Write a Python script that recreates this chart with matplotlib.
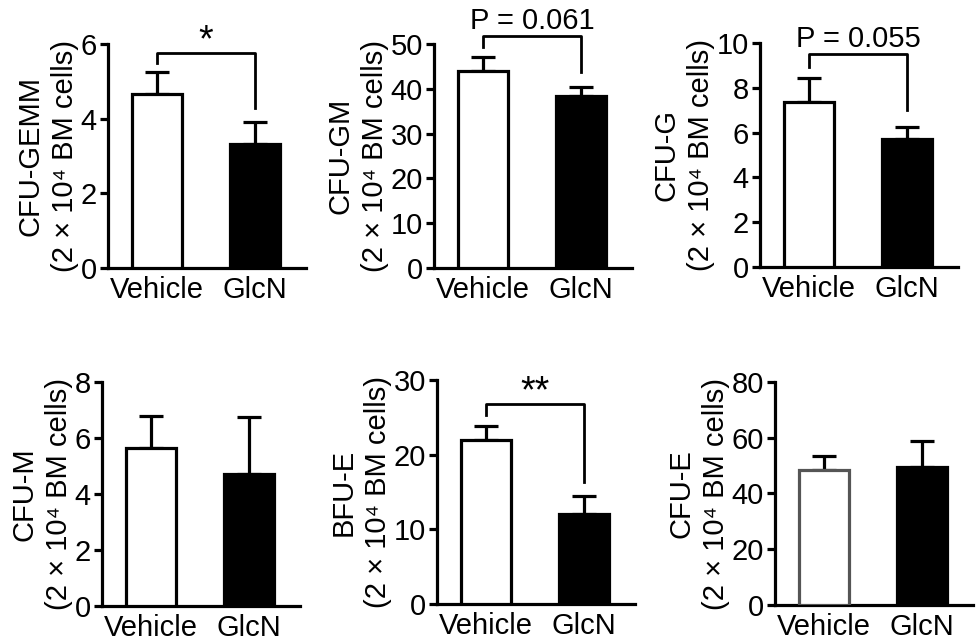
import matplotlib
matplotlib.use("Agg")
import matplotlib.pyplot as plt

plt.rcParams['font.family'] = ['Liberation Sans', 'DejaVu Sans']

# colony counts
panels = ["CFU-GEMM", "CFU-GM", "CFU-G", "CFU-M", "BFU-E", "CFU-E"]
groups = ["Vehicle", "GlcN"]
vehicle_mean = [4.65, 44.0, 7.35, 5.65, 22.0, 48.5]
vehicle_err = [0.6, 3.0, 1.1, 1.15, 1.9, 5.0]
glcn_mean = [3.33, 38.3, 5.7, 4.7, 12.0, 49.5]
glcn_err = [0.57, 2.2, 0.55, 2.05, 2.5, 9.5]
y_max = [6, 50, 10, 8, 30, 80]
y_step = [2, 10, 2, 2, 10, 20]

# significance brackets: label, bracket level, left end, right end
sig_label = ["*", "P = 0.061", "P = 0.055", None, "**", None]
sig_top = [5.76, 51.8, 9.5, None, 26.8, None]
sig_left = [5.5, 49.3, 8.95, None, 25.3, None]
sig_right = [4.29, 43.8, 7.0, None, 16.3, None]

fig = plt.figure(figsize=(9.76, 6.44), dpi=100)
W, H = 976, 644

# axes boxes in pixels: left, zero line y, top y
boxes = [(108, 268, 44), (434, 268, 44), (760, 267, 43),
         (102, 606, 382), (437, 604, 380), (775, 605, 382)]
ax_w = 198

lw = 2.3
fs = 21
for i in range(6):
    left, y0, y1 = boxes[i]
    ax = fig.add_axes([left / W, (H - y0) / H, ax_w / W, (y0 - y1) / H])

    edge0 = '#555555' if panels[i] == "CFU-E" else 'black'
    ax.bar([0], [vehicle_mean[i]], width=0.51, color='white', edgecolor=edge0,
           linewidth=lw, zorder=3)
    ax.bar([1], [glcn_mean[i]], width=0.51, color='black', edgecolor='black',
           linewidth=lw, zorder=3)
    ax.errorbar([0, 1], [vehicle_mean[i], glcn_mean[i]],
                yerr=[[0, 0], [vehicle_err[i], glcn_err[i]]],
                fmt='none', ecolor='black', elinewidth=lw, capsize=8.5,
                capthick=lw, zorder=2)

    ax.set_xlim(-0.5, 1.52)
    ax.set_ylim(0, y_max[i])
    ax.set_yticks(range(0, y_max[i] + 1, y_step[i]))
    ax.set_xticks([0, 1])
    ax.set_xticklabels(groups)
    ax.tick_params(axis='x', length=0, pad=6, labelsize=fs)
    ax.tick_params(axis='y', length=6, width=lw, pad=2, labelsize=fs)
    for s in ['top', 'right']:
        ax.spines[s].set_visible(False)
    for s in ['left', 'bottom']:
        ax.spines[s].set_linewidth(lw)
    ax.set_ylabel(panels[i] + "\n(2 × 10⁴ BM cells)", fontsize=fs,
                  labelpad=1, linespacing=1.3)

    if sig_label[i] is not None:
        ax.plot([0, 0, 1, 1], [sig_left[i], sig_top[i], sig_top[i], sig_right[i]],
                color='black', linewidth=2.0, clip_on=False)
        if sig_label[i].startswith("P"):
            off, size = 5, 21
        else:
            off, size = 1, 27
        ax.annotate(sig_label[i], (0.5, sig_top[i]), xytext=(0, off),
                    textcoords='offset points', ha='center', va='baseline',
                    fontsize=size, annotation_clip=False)

fig.savefig("out.png", dpi=100)
